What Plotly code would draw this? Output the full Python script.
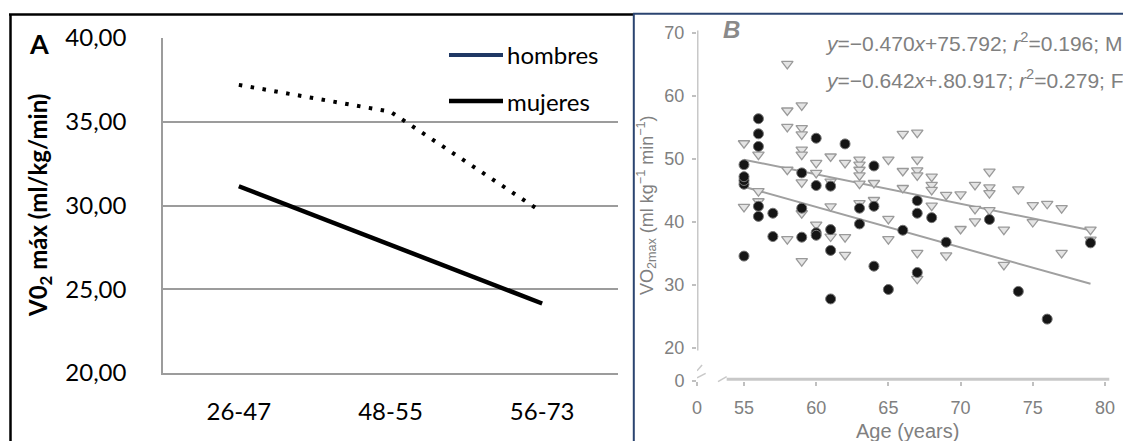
import plotly.graph_objects as go

W, H = 1123, 441

# ---------------- Panel A data ----------------
grupos = ["26-47", "48-55", "56-73"]
hombres = [37.2, 35.6, 29.6]
mujeres = [31.15, 27.65, 24.15]
yticks_a = [20, 25, 30, 35, 40]

# ---------------- Panel B data ----------------
circ_x = [55, 55, 55, 55, 55, 56, 56, 56, 56, 56, 57, 57, 59, 59, 59,
          60, 60, 60, 60, 61, 61, 61, 61, 62, 63, 63, 64, 64, 64, 65,
          66, 67, 67, 67, 68, 69, 72, 74, 76, 79]
circ_y = [34.6, 46.0, 46.6, 47.2, 49.1, 56.4, 54.0, 52.0, 42.5, 40.9, 41.4, 37.7, 47.8, 42.2, 37.6,
          53.3, 45.8, 38.3, 37.9, 45.7, 38.8, 35.5, 27.8, 52.4, 42.2, 39.7, 48.9, 42.5, 33.0, 29.3,
          38.7, 43.4, 41.4, 32.0, 40.7, 36.8, 40.4, 29.0, 24.6, 36.7]
tri_x = [55, 55,
         56, 56, 56,
         58, 58, 58, 58, 58,
         59, 59, 59, 59, 59, 59, 59, 59,
         60, 60, 60,
         61, 61, 61, 61,
         62, 62, 62,
         63, 63, 63, 63, 63, 63,
         64, 64,
         65, 65, 65,
         66, 66, 66,
         67, 67, 67, 67, 67, 67,
         68, 68, 68, 68,
         69, 69,
         70, 70,
         71, 71, 71,
         72, 72, 72, 72,
         73, 73,
         74,
         75, 75,
         76,
         77, 77,
         79, 79]
tri_y = [52.5, 42.4,
         50.7, 44.9, 43.3,
         65.1, 57.7, 55.1, 48.3, 37.3,
         58.5, 54.9, 53.9, 51.5, 50.7, 46.3, 41.4, 33.8,
         49.4, 47.8, 39.6,
         50.4, 46.4, 42.5, 37.7,
         49.4, 37.6, 34.8,
         49.9, 49.1, 48.3, 47.4, 46.1, 43.0,
         46.2, 43.5,
         49.9, 40.5, 37.3,
         54.0, 48.1, 45.4,
         54.2, 49.9, 48.2, 47.4, 35.1, 31.0,
         47.2, 45.9, 45.1, 42.6,
         44.3, 34.7,
         44.4, 38.9,
         45.9, 42.1, 40.1,
         48.0, 45.5, 44.6, 41.9,
         38.8, 33.2,
         45.2,
         42.7, 40.0,
         42.9,
         42.2, 35.1,
         38.8, 37.2]
fit_x = [55, 79]
fit_tri = [49.9, 38.7]    # y = -0.470x + 75.792
fit_circ = [45.6, 30.2]   # y = -0.642x + 80.917
xticks_b = [55, 60, 65, 70, 75, 80]
yticks_b = [20, 30, 40, 50, 60, 70]


def px(x):
    return x / W


def py(y):
    return 1 - y / H


FA = "Lato"
FB = "Liberation Sans"
GREY_B = "#808080"

fig = go.Figure()

# Panel A traces
fig.add_trace(go.Scatter(x=grupos, y=hombres, mode="lines", xaxis="x", yaxis="y",
                         line=dict(color="black", width=4, dash="3.5px,8.5px"), showlegend=False))
fig.add_trace(go.Scatter(x=grupos, y=mujeres, mode="lines", xaxis="x", yaxis="y",
                         line=dict(color="black", width=4.5), showlegend=False))

# Panel B traces
fig.add_trace(go.Scatter(x=fit_x, y=fit_tri, mode="lines", xaxis="x2", yaxis="y2",
                         line=dict(color="#a0a0a0", width=2), showlegend=False))
fig.add_trace(go.Scatter(x=fit_x, y=fit_circ, mode="lines", xaxis="x2", yaxis="y2",
                         line=dict(color="#a0a0a0", width=2), showlegend=False))
fig.add_trace(go.Scatter(x=tri_x, y=tri_y, mode="markers", xaxis="x2", yaxis="y2",
                         marker=dict(symbol="triangle-down", size=10, color="#e4e4e4",
                                     line=dict(color="#9a9a9a", width=1.3)),
                         showlegend=False))
fig.add_trace(go.Scatter(x=circ_x, y=circ_y, mode="markers", xaxis="x2", yaxis="y2",
                         marker=dict(symbol="circle", size=10, color="#151515",
                                     line=dict(color="#777777", width=1)),
                         showlegend=False))

# Panel B geometry: 55 -> 744px, 80 -> 1105px ; 20 -> 348px, 70 -> 33px
xb0, xb1 = 51.745, 80.35
yb0, yb1 = 14.78, 72.06
x_zero = xb0
y_zero = 14.86

shapes = [
    # Panel A frame
    dict(type="line", xref="paper", yref="paper", x0=px(9), x1=px(633), y0=py(14.5), y1=py(14.5),
         line=dict(color="black", width=2.5)),
    dict(type="line", xref="paper", yref="paper", x0=px(10.5), x1=px(10.5), y0=py(14.5), y1=py(460),
         line=dict(color="black", width=2.5)),
    # Panel B frame
    dict(type="line", xref="paper", yref="paper", x0=px(633), x1=px(1130), y0=py(13.8), y1=py(13.8),
         line=dict(color="#2B4470", width=2)),
    dict(type="line", xref="paper", yref="paper", x0=px(633.8), x1=px(633.8), y0=py(13.8), y1=py(460),
         line=dict(color="#2B4470", width=2)),
    # Panel A legend swatches
    dict(type="line", xref="paper", yref="paper", x0=px(449), x1=px(503), y0=py(55), y1=py(55),
         line=dict(color="#1F3864", width=4)),
    dict(type="line", xref="paper", yref="paper", x0=px(449), x1=px(503), y0=py(101), y1=py(101),
         line=dict(color="black", width=4.5)),
    # Panel B axis lines (broken)
    dict(type="line", xref="x2", yref="y2", x0=x_zero, x1=x_zero, y0=19.6, y1=70.4,
         line=dict(color="#c8c8c8", width=3)),
    dict(type="line", xref="x2", yref="y2", x0=x_zero, x1=x_zero + 0.35, y0=16.4, y1=17.3,
         line=dict(color="#c8c8c8", width=1.5)),
    dict(type="line", xref="x2", yref="y2", x0=x_zero, x1=x_zero + 0.6, y0=15.3, y1=16.0,
         line=dict(color="#c8c8c8", width=1.5)),
    dict(type="line", xref="x2", yref="y2 domain", x0=53.8, x1=80.3, y0=0.005, y1=0.005,
         line=dict(color="#c8c8c8", width=3)),
    dict(type="line", xref="x2", yref="y2 domain", x0=53.2, x1=53.8, y0=-0.002, y1=0.012,
         line=dict(color="#c8c8c8", width=1.5)),
]


def ann(text, x, y, size, family, color, xanchor="center", angle=0):
    return dict(text=text, x=px(x), y=py(y), xref="paper", yref="paper", showarrow=False,
                xanchor=xanchor, yanchor="middle", textangle=angle,
                font=dict(family=family, size=size, color=color))


annotations = [
    ann("<b>A</b>", 39, 43, 27, FA, "black"),
    ann("<b>V0<sub>2</sub> máx (ml/kg/min)</b>", 40, 206, 24, FA, "black", angle=-90),
    ann("hombres", 505, 55, 24, FA, "black", xanchor="left"),
    ann("mujeres", 505, 101, 24, FA, "black", xanchor="left"),
    # Panel B texts
    ann("<b><i>B</i></b>", 731, 30, 24, FB, "#8a8a8a"),
    ann("<i>y</i>=−0.470<i>x</i>+75.792; <i>r</i><sup>2</sup>=0.196; M", 823, 42, 21, FB, GREY_B,
        xanchor="left"),
    ann("<i>y</i>=−0.642<i>x</i>+.80.917; <i>r</i><sup>2</sup>=0.279; F", 823, 79, 21, FB, GREY_B,
        xanchor="left"),
    ann("VO<sub>2max</sub> (ml kg<sup>−1</sup> min<sup>−1</sup>)", 646, 205, 18, FB, GREY_B, angle=-90),
    ann("Age (years)", 907, 431, 20, FB, GREY_B),
]

fig.update_layout(
    width=W, height=H,
    autosize=False,
    margin=dict(l=0, r=0, t=0, b=0, pad=0, autoexpand=False),
    paper_bgcolor="white", plot_bgcolor="white",
    separators=",.",
    showlegend=False,
    xaxis=dict(domain=[px(163), px(618)], anchor="y", type="category", range=[-0.5, 2.5],
               showline=True, linecolor="#9c9c9c", linewidth=1.5, showgrid=False,
               ticks="", tickfont=dict(family=FA, size=24, color="black"),
               ticklabelstandoff=16, zeroline=False, automargin=False),
    yaxis=dict(domain=[py(373), py(38)], anchor="x", range=[20, 40],
               tickvals=yticks_a, tickformat=".2f",
               showline=True, linecolor="#9c9c9c", linewidth=1.5,
               showgrid=True, gridcolor="#9c9c9c", gridwidth=1.5, zeroline=False,
               ticks="", tickfont=dict(family=FA, size=24, color="black"),
               ticklabelstandoff=30, automargin=False),
    xaxis2=dict(domain=[px(697), px(1110)], anchor="y2", range=[xb0, xb1],
                tickvals=[x_zero] + xticks_b, ticktext=["0"] + [str(v) for v in xticks_b],
                showline=False, showgrid=False, zeroline=False,
                ticks="outside", ticklen=4, tickcolor="#c0c0c0", tickwidth=1.5,
                tickfont=dict(family=FB, size=18, color=GREY_B), ticklabelstandoff=6,
                automargin=False),
    yaxis2=dict(domain=[py(381), py(20)], anchor="x2", range=[yb0, yb1],
                tickvals=[y_zero] + yticks_b, ticktext=["0"] + [str(v) for v in yticks_b],
                showline=False, showgrid=False, zeroline=False,
                ticks="outside", ticklen=4, tickcolor="#c0c0c0", tickwidth=1.5,
                tickfont=dict(family=FB, size=18, color=GREY_B), ticklabelstandoff=4,
                automargin=False),
    shapes=shapes,
    annotations=annotations,
)

fig.write_html("out.html")
